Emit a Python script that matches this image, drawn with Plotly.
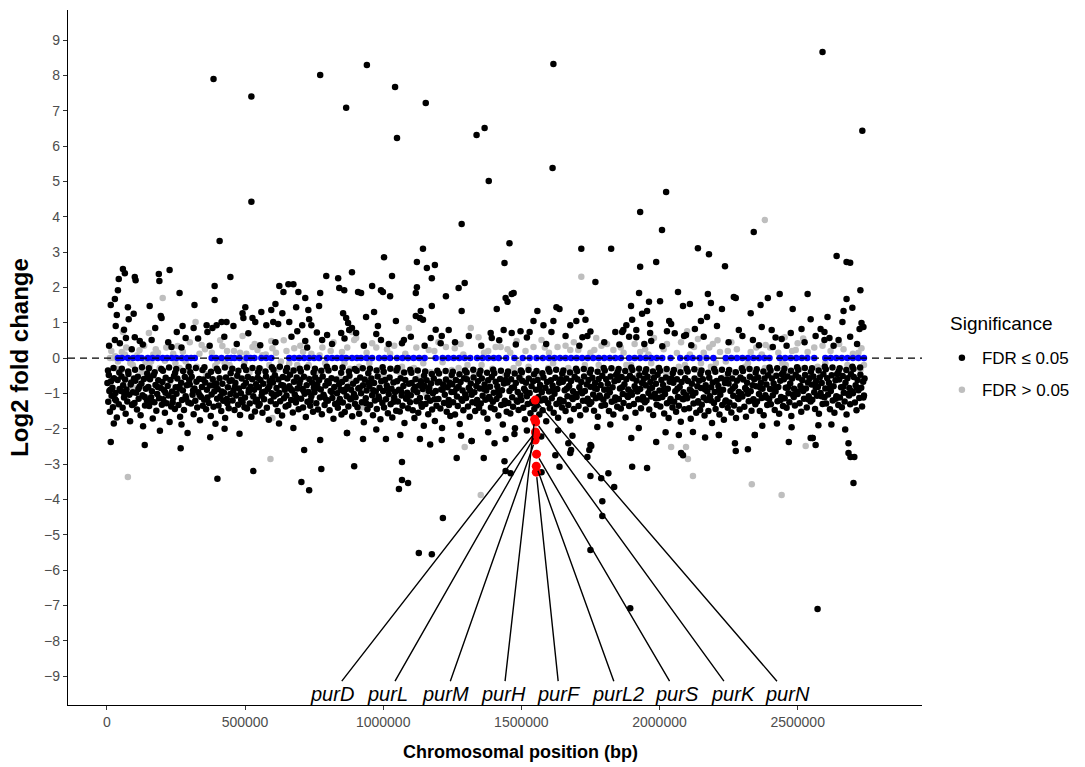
import plotly.graph_objects as go

# ---------------- data (x in kb, y = log2 fold change) ----------------
NEG_BLACK = [
(2,-0.71),(5,-1.24),(7,-0.48),(9,-0.93),(11,-1.52),(15,-0.66),(17,-1.07),(20,-0.84),(22,-1.39),(26,-0.57),(29,-1.16),(31,-0.99),(36,-1.68),(39,-0.62),(43,-1.31),(46,-0.88),(25,-1.85),
(51,-0.93),(53,-0.52),(57,-1.41),(59,-0.77),(62,-1.12),(66,-0.61),(68,-1.58),(71,-0.89),(74,-1.23),(78,-0.45),(81,-1.04),(84,-1.79),(88,-0.69),(91,-1.33),(94,-0.97),(98,-0.58),
(100,-1.27),(103,-0.64),(106,-0.98),(109,-1.46),(112,-0.53),(115,-1.15),(118,-0.81),(122,-1.62),(125,-0.72),(129,-1.05),(131,-1.93),(134,-0.59),(138,-1.34),(141,-0.87),(145,-1.2),(148,-0.5),
(150,-0.82),(153,-1.36),(156,-0.6),(160,-1.11),(163,-0.94),(166,-1.71),(169,-0.49),(172,-1.25),(176,-0.76),(179,-1.49),(182,-1.02),(186,-0.63),(189,-1.14),(192,-2.06),(195,-0.85),(199,-1.32),
(201,-0.68),(204,-1.17),(207,-0.91),(210,-1.55),(213,-0.56),(216,-1.28),(220,-0.79),(223,-1.06),(227,-1.81),(230,-0.62),(233,-1.37),(236,-0.95),(240,-1.13),(243,-0.51),(246,-1.44),(249,-0.83),
(252,-1.01),(255,-0.58),(259,-1.33),(262,-0.81),(265,-1.66),(269,-0.7),(272,-1.19),(275,-0.92),(279,-1.47),(282,-0.54),(285,-1.08),(289,-0.77),(292,-2.12),(295,-1.26),(298,-0.63),(270,-1.88),
(300,-0.75),(304,-1.29),(307,-0.53),(310,-1.04),(314,-1.59),(317,-0.86),(320,-1.21),(324,-0.67),(327,-1.4),(331,-0.97),(334,-0.59),(337,-1.76),(341,-1.1),(344,-0.82),(347,-1.35),(349,-0.61),
(352,-1.18),(356,-0.69),(359,-1.45),(362,-0.9),(366,-0.5),(369,-1.27),(373,-0.78),(376,-1.64),(379,-1.03),(383,-0.6),(386,-1.38),(389,-0.94),(393,-1.86),(396,-0.72),(399,-1.15),(374,-2.24),
(401,-0.88),(404,-1.34),(408,-0.57),(411,-1.09),(414,-1.5),(418,-0.73),(421,-1.21),(424,-0.98),(428,-1.7),(431,-0.55),(434,-1.16),(438,-0.83),(441,-1.42),(444,-0.65),(447,-1.02),(426,-2.0),
(452,-0.63),(455,-1.2),(458,-0.92),(462,-1.47),(465,-0.71),(468,-1.06),(472,-0.5),(475,-1.32),(478,-0.86),(482,-1.61),(485,-1.0),(488,-0.58),(491,-1.25),(495,-0.79),(498,-1.39),(480,-2.14),
(500,-1.12),(503,-0.7),(507,-1.43),(510,-0.54),(513,-0.97),(517,-1.29),(520,-0.81),(523,-1.66),(526,-0.6),(530,-1.08),(533,-0.9),(536,-1.51),(540,-0.74),(543,-1.18),(546,-0.56),(549,-1.35),
(550,-0.83),(553,-1.3),(556,-0.62),(560,-1.07),(563,-1.55),(566,-0.73),(569,-1.17),(573,-0.95),(576,-0.52),(579,-1.41),(583,-0.87),(586,-1.75),(589,-0.66),(593,-1.22),(596,-1.0),(599,-0.58),
(601,-0.69),(604,-1.09),(608,-0.49),(611,-1.31),(614,-0.85),(618,-1.5),(621,-0.61),(624,-0.99),(627,-1.22),(631,-0.76),(634,-1.63),(637,-0.54),(641,-1.14),(644,-0.9),(647,-1.37),(623,-1.85),
(650,-1.06),(653,-0.58),(657,-1.33),(660,-0.8),(663,-0.47),(667,-1.19),(670,-0.92),(673,-1.54),(677,-0.67),(680,-1.03),(684,-1.26),(687,-0.55),(690,-0.86),(694,-1.45),(697,-0.72),(675,-1.98),
(700,-0.62),(703,-1.15),(707,-0.88),(710,-1.4),(713,-0.53),(716,-1.01),(720,-1.67),(723,-0.77),(726,-1.24),(730,-0.96),(733,-0.6),(736,-1.35),(740,-1.08),(743,-0.7),(746,-1.52),(749,-0.84),(714,-2.6),
(751,-0.97),(754,-0.55),(758,-1.28),(761,-0.74),(764,-1.46),(768,-0.63),(771,-1.12),(774,-0.89),(778,-1.59),(781,-0.52),(784,-1.04),(788,-1.33),(791,-0.78),(794,-1.18),(798,-0.66),(772,-2.32),
(800,-1.21),(803,-0.71),(806,-1.48),(810,-0.93),(813,-0.57),(816,-1.13),(820,-1.72),(823,-0.82),(826,-1.3),(830,-0.61),(833,-1.0),(836,-1.41),(840,-0.75),(843,-1.16),(846,-0.9),(849,-1.6),
(851,-0.68),(854,-1.26),(858,-0.95),(861,-1.53),(864,-0.59),(868,-1.08),(871,-0.81),(874,-1.37),(878,-0.5),(881,-1.17),(884,-0.9),(888,-1.65),(891,-0.73),(894,-1.02),(898,-1.3),(869,-2.12),
(900,-1.11),(903,-0.64),(907,-1.39),(910,-0.86),(913,-1.58),(917,-0.55),(920,-1.0),(923,-1.25),(927,-0.77),(930,-1.82),(933,-0.61),(937,-1.14),(940,-0.92),(943,-1.45),(947,-0.7),(927,-2.29),
(950,-0.8),(953,-1.33),(957,-0.58),(960,-1.05),(963,-1.62),(967,-0.71),(970,-1.2),(973,-0.95),(977,-1.44),(980,-0.52),(983,-1.09),(987,-0.84),(990,-1.73),(993,-0.66),(997,-1.27),(975,-2.02),
(1000,-0.93),(1003,-1.4),(1007,-0.62),(1010,-1.17),(1013,-0.78),(1017,-1.56),(1020,-1.02),(1023,-0.55),(1027,-1.31),(1030,-0.87),(1033,-1.68),(1037,-0.69),(1040,-1.12),(1043,-0.96),(1047,-1.49),(1010,-2.29),
(1050,-0.66),(1053,-1.23),(1057,-0.9),(1060,-1.51),(1063,-0.57),(1067,-1.06),(1070,-1.35),(1073,-0.79),(1077,-1.84),(1080,-0.62),(1083,-1.15),(1087,-0.98),(1090,-1.42),(1093,-0.73),(1097,-1.25),(1062,-2.18),
(1100,-1.05),(1103,-0.71),(1107,-1.48),(1110,-0.9),(1113,-1.7),(1117,-0.6),(1120,-1.22),(1123,-0.97),(1127,-1.55),(1130,-0.78),(1133,-1.13),(1137,-0.66),(1140,-1.38),(1143,-0.88),(1147,-1.92),(1133,-2.29),
(1150,-0.79),(1153,-1.3),(1157,-0.63),(1160,-1.12),(1163,-1.59),(1167,-0.85),(1170,-1.21),(1173,-0.72),(1177,-1.46),(1180,-1.0),(1183,-0.58),(1187,-1.78),(1190,-0.93),(1193,-1.35),(1197,-0.69),(1170,-2.45),
(1200,-1.16),(1203,-0.67),(1207,-1.43),(1210,-0.89),(1213,-1.98),(1217,-0.75),(1220,-1.27),(1223,-1.04),(1227,-0.61),(1230,-1.52),(1233,-0.83),(1237,-1.19),(1240,-0.7),(1243,-1.64),(1247,-0.96),(1212,-2.32),
(1250,-0.74),(1253,-1.25),(1257,-0.96),(1260,-1.6),(1263,-0.62),(1267,-1.09),(1270,-1.36),(1273,-0.81),(1277,-1.87),(1280,-0.68),(1283,-1.17),(1287,-0.92),(1290,-1.48),(1293,-0.57),(1297,-1.03),(1282,-2.2),
(1300,-1.13),(1303,-0.6),(1307,-1.37),(1310,-0.84),(1313,-1.66),(1317,-0.72),(1320,-1.04),(1323,-1.25),(1327,-0.55),(1330,-0.97),(1333,-1.5),(1337,-0.79),(1340,-1.19),(1343,-0.66),(1347,-1.41),(1320,-2.35),
(1350,-0.86),(1353,-1.29),(1357,-0.58),(1360,-1.07),(1363,-1.54),(1367,-0.75),(1370,-1.18),(1373,-0.92),(1377,-1.72),(1380,-0.63),(1383,-1.1),(1387,-0.81),(1390,-1.4),(1393,-0.54),(1397,-1.24),(1380,-2.1),
(1400,-0.98),(1403,-1.45),(1407,-0.67),(1410,-1.16),(1413,-0.8),(1417,-1.63),(1420,-1.05),(1423,-0.59),(1427,-1.33),(1430,-0.91),(1433,-1.88),(1437,-0.72),(1440,-1.21),(1443,-0.62),(1447,-1.52),(1403,-2.41),(1443,-2.29),
(1450,-0.69),(1453,-1.27),(1457,-0.93),(1460,-1.57),(1463,-0.6),(1467,-1.11),(1470,-1.38),(1473,-0.83),(1477,-1.99),(1480,-0.71),(1483,-1.2),(1487,-0.96),(1490,-1.47),(1493,-0.56),(1497,-1.06),(1475,-2.15),
(1500,-1.19),(1503,-0.64),(1507,-1.41),(1510,-0.87),(1513,-1.73),(1517,-0.7),(1520,-1.08),(1523,-1.3),(1527,-0.58),(1530,-0.99),(1533,-1.56),(1537,-0.8),(1540,-1.23),(1543,-0.66),(1547,-1.44),(1520,-2.05),
(1553,-0.9),(1556,-1.34),(1559,-0.62),(1562,-1.1),(1565,-1.6),(1568,-0.76),(1571,-1.2),(1574,-0.97),(1577,-1.48),(1580,-0.55),(1584,-1.15),(1587,-0.84),(1590,-1.79),(1593,-0.68),(1597,-1.28),(1572,-2.22),
(1600,-0.95),(1603,-1.42),(1607,-0.63),(1610,-1.14),(1613,-0.78),(1617,-1.55),(1620,-1.01),(1623,-0.56),(1627,-1.3),(1630,-0.88),(1633,-1.69),(1637,-0.7),(1640,-1.18),(1643,-0.6),(1647,-1.4),(1633,-2.05),
(1650,-0.67),(1653,-1.22),(1657,-0.91),(1660,-1.5),(1663,-0.58),(1667,-1.08),(1670,-1.33),(1673,-0.79),(1677,-1.77),(1680,-0.65),(1683,-1.12),(1687,-0.94),(1690,-1.44),(1693,-0.53),(1697,-1.02),(1685,-2.2),
(1700,-1.1),(1703,-0.6),(1707,-1.36),(1710,-0.83),(1713,-1.62),(1717,-0.68),(1720,-1.0),(1723,-1.21),(1727,-0.52),(1730,-0.93),(1733,-1.46),(1737,-0.75),(1740,-1.15),(1743,-0.62),(1747,-1.3),(1753,-2.49),
(1750,-0.81),(1753,-1.25),(1757,-0.56),(1760,-1.03),(1763,-1.49),(1767,-0.71),(1770,-1.14),(1773,-0.88),(1777,-1.66),(1780,-0.59),(1783,-1.06),(1787,-0.76),(1790,-1.35),(1793,-0.5),(1797,-1.18),(1775,-1.95),
(1800,-0.9),(1803,-1.33),(1807,-0.6),(1810,-1.07),(1813,-0.73),(1817,-1.5),(1820,-0.97),(1823,-0.52),(1827,-1.24),(1830,-0.83),(1833,-1.6),(1837,-0.66),(1840,-1.12),(1843,-0.48),(1847,-1.38),(1822,-1.88),
(1850,-0.62),(1853,-1.16),(1857,-0.86),(1860,-1.43),(1863,-0.54),(1867,-1.02),(1870,-1.27),(1873,-0.74),(1877,-1.68),(1880,-0.6),(1883,-1.06),(1887,-0.89),(1890,-1.36),(1893,-0.5),(1897,-0.97),(1898,-2.26),
(1900,-1.04),(1903,-0.57),(1907,-1.3),(1910,-0.8),(1913,-1.55),(1917,-0.64),(1920,-0.95),(1923,-1.17),(1927,-0.49),(1930,-0.88),(1933,-1.42),(1937,-0.71),(1940,-1.1),(1943,-0.59),(1947,-1.25),(1925,-1.98),
(1950,-0.77),(1953,-1.2),(1957,-0.53),(1960,-0.99),(1963,-1.46),(1967,-0.68),(1970,-1.09),(1973,-0.84),(1977,-1.61),(1980,-0.56),(1983,-1.01),(1987,-0.73),(1990,-1.32),(1993,-0.47),(1997,-1.13),(1988,-2.38),
(2000,-0.92),(2003,-1.37),(2007,-0.62),(2010,-1.1),(2013,-0.76),(2017,-1.57),(2020,-1.02),(2023,-0.55),(2027,-1.28),(2030,-0.87),(2033,-1.7),(2037,-0.67),(2040,-1.16),(2043,-0.58),(2047,-1.4),(2022,-2.1),
(2050,-0.7),(2053,-1.24),(2057,-0.94),(2060,-1.52),(2063,-0.6),(2067,-1.1),(2070,-1.35),(2073,-0.82),(2077,-1.8),(2080,-0.68),(2083,-1.15),(2087,-0.97),(2090,-1.45),(2093,-0.57),(2097,-1.05),(2070,-2.18),
(2100,-1.14),(2103,-0.65),(2107,-1.42),(2110,-0.89),(2113,-1.72),(2117,-0.73),(2120,-1.06),(2123,-1.29),(2127,-0.58),(2130,-0.98),(2133,-1.55),(2137,-0.8),(2140,-1.22),(2143,-0.64),(2147,-1.47),(2121,-2.09),
(2150,-0.85),(2153,-1.32),(2157,-0.6),(2160,-1.12),(2163,-1.63),(2167,-0.77),(2170,-1.19),(2173,-0.95),(2177,-1.5),(2180,-0.56),(2183,-1.08),(2187,-0.83),(2190,-1.84),(2193,-0.69),(2197,-1.27),(2165,-2.25),
(2200,-0.96),(2203,-1.44),(2207,-0.65),(2210,-1.16),(2213,-0.79),(2217,-1.6),(2220,-1.04),(2223,-0.57),(2227,-1.33),(2230,-0.9),(2233,-1.75),(2237,-0.71),(2240,-1.2),(2243,-0.61),(2247,-1.41),(2215,-2.18),
(2250,-0.72),(2253,-1.26),(2257,-0.93),(2260,-1.54),(2263,-0.58),(2267,-1.07),(2270,-1.34),(2273,-0.8),(2277,-1.7),(2280,-0.64),(2283,-1.13),(2287,-0.96),(2290,-1.46),(2293,-0.55),(2297,-1.02),(2273,-2.41),
(2300,-1.09),(2303,-0.61),(2307,-1.38),(2310,-0.85),(2313,-1.66),(2317,-0.7),(2320,-1.01),(2323,-1.22),(2327,-0.53),(2330,-0.94),(2333,-1.49),(2337,-0.77),(2340,-1.17),(2343,-0.6),(2347,-1.31),(2345,-2.18),
(2350,-0.8),(2353,-1.23),(2357,-0.55),(2360,-1.02),(2363,-1.5),(2367,-0.7),(2370,-1.13),(2373,-0.87),(2377,-1.62),(2380,-0.58),(2383,-1.05),(2387,-0.75),(2390,-1.33),(2393,-0.49),(2397,-1.16),(2372,-1.92),
(2400,-0.88),(2403,-1.31),(2407,-0.58),(2410,-1.05),(2413,-0.72),(2417,-1.47),(2420,-0.95),(2423,-0.5),(2427,-1.22),(2430,-0.82),(2433,-1.58),(2437,-0.64),(2440,-1.1),(2443,-0.46),(2447,-1.36),(2425,-1.85),
(2450,-0.6),(2453,-1.14),(2457,-0.84),(2460,-1.41),(2463,-0.52),(2467,-1.0),(2470,-1.25),(2473,-0.72),(2477,-1.64),(2480,-0.58),(2483,-1.04),(2487,-0.87),(2490,-1.34),(2493,-0.47),(2497,-0.95),(2478,-1.96),
(2500,-1.02),(2503,-0.55),(2507,-1.28),(2510,-0.79),(2513,-1.52),(2517,-0.63),(2520,-0.93),(2523,-1.15),(2527,-0.48),(2530,-0.86),(2533,-1.4),(2537,-0.69),(2540,-1.08),(2543,-0.57),(2547,-1.23),(2554,-2.26),
(2550,-0.75),(2553,-1.18),(2557,-0.52),(2560,-0.97),(2563,-1.44),(2567,-0.66),(2570,-1.07),(2573,-0.82),(2577,-1.58),(2580,-0.55),(2583,-0.99),(2587,-0.71),(2590,-1.3),(2593,-0.46),(2597,-1.11),(2575,-1.9),
(2600,-0.86),(2603,-1.29),(2607,-0.57),(2610,-1.03),(2613,-0.7),(2617,-1.45),(2620,-0.93),(2623,-0.49),(2627,-1.2),(2630,-0.8),(2633,-1.55),(2637,-0.63),(2640,-1.08),(2643,-0.45),(2647,-1.33),(2622,-1.88),
(2650,-0.61),(2653,-1.12),(2657,-0.83),(2660,-1.39),(2663,-0.51),(2667,-0.98),(2670,-1.23),(2673,-0.7),(2677,-1.6),(2680,-0.57),(2683,-1.02),(2687,-0.85),(2690,-1.31),(2693,-0.46),(2697,-0.94),(2672,-2.02),
(2700,-1.0),(2703,-0.54),(2707,-1.26),(2710,-0.77),(2713,-1.48),(2717,-0.62),(2720,-0.91),(2723,-1.13),(2727,-0.47),(2730,-0.84),(2733,-1.37),(2737,-0.67),(2740,-1.06),(2742,-0.58),
]

NEG_BLACK_UPPER = [
(4,-0.35),(13,-0.9),(24,-0.28),(33,-1.2),(45,-0.41),(54,-0.3),(63,-1.0),(77,-0.38),(86,-0.75),(96,-1.3),
(102,-0.33),(114,-0.88),(127,-0.26),(137,-1.1),(146,-0.44),(152,-0.29),(161,-1.22),(173,-0.4),(184,-0.82),(197,-0.31),
(203,-0.36),(212,-0.98),(225,-0.27),(238,-1.25),(247,-0.42),(251,-0.31),(263,-0.86),(276,-0.37),(287,-1.15),(296,-0.25),
(302,-0.4),(312,-0.92),(322,-0.28),(336,-1.05),(346,-0.34),(353,-0.26),(364,-1.12),(377,-0.39),(387,-0.76),(398,-0.3),
(403,-0.37),(416,-0.95),(427,-0.27),(436,-1.28),(448,-0.43),(454,-0.3),(463,-0.83),(476,-0.36),(486,-1.18),(496,-0.24),
(504,-0.34),(514,-0.9),(527,-0.28),(538,-1.23),(547,-0.4),(552,-0.29),(562,-0.97),(574,-0.38),(588,-0.8),(597,-0.26),
(603,-0.33),(613,-1.03),(626,-0.25),(638,-0.78),(648,-0.37),(652,-0.28),(665,-0.88),(676,-0.35),(686,-1.12),(698,-0.3),
(702,-0.38),(712,-0.93),(724,-0.27),(737,-1.2),(748,-0.41),(753,-0.3),(763,-0.85),(776,-0.36),(787,-1.1),(796,-0.25),
(802,-0.35),(814,-0.96),(825,-0.28),(838,-1.26),(848,-0.42),(853,-0.27),(863,-0.89),(876,-0.38),(886,-1.14),(897,-0.31),
(904,-0.36),(915,-0.84),(926,-0.29),(938,-1.28),(946,-0.43),(952,-0.3),(964,-0.91),(976,-0.35),(986,-1.16),(998,-0.26),
(1002,-0.39),(1015,-0.87),(1026,-0.3),(1038,-1.24),(1048,-0.35),(1052,-0.28),(1065,-0.95),(1076,-0.41),(1088,-1.1),(1098,-0.33),
(1102,-0.42),(1115,-0.82),(1125,-0.35),(1138,-1.3),(1148,-0.5),(1152,-0.38),(1165,-0.93),(1176,-0.45),(1186,-1.17),(1196,-0.36),
(1202,-0.44),(1215,-0.9),(1226,-0.37),(1238,-1.33),(1248,-0.48),(1252,-0.39),(1265,-0.86),(1276,-0.46),(1286,-1.21),(1296,-0.35),
(1302,-0.41),(1315,-0.92),(1326,-0.33),(1338,-1.29),(1348,-0.45),(1352,-0.36),(1365,-0.88),(1376,-0.42),(1386,-1.15),(1398,-0.33),
(1402,-0.43),(1415,-0.95),(1426,-0.36),(1438,-1.3),(1448,-0.47),(1452,-0.38),(1465,-0.85),(1476,-0.44),(1486,-1.24),(1498,-0.35),
(1502,-0.4),(1515,-0.93),(1526,-0.34),(1538,-1.27),(1546,-0.46),(1555,-0.37),(1566,-0.88),(1576,-0.43),(1586,-1.19),(1598,-0.32),
(1602,-0.39),(1615,-0.9),(1626,-0.33),(1638,-1.25),(1648,-0.44),(1652,-0.35),(1665,-0.86),(1676,-0.41),(1686,-1.16),(1698,-0.3),
(1702,-0.37),(1715,-0.94),(1726,-0.31),(1738,-1.22),(1748,-0.42),(1752,-0.33),(1765,-0.85),(1776,-0.39),(1786,-1.12),(1798,-0.28),
(1802,-0.35),(1815,-0.9),(1826,-0.29),(1838,-1.2),(1848,-0.4),(1852,-0.31),(1865,-0.83),(1876,-0.37),(1886,-1.1),(1898,-0.27),
(1902,-0.34),(1915,-0.88),(1926,-0.3),(1938,-1.18),(1948,-0.41),(1952,-0.32),(1965,-0.86),(1976,-0.38),(1986,-1.14),(1998,-0.28),
(2002,-0.36),(2015,-0.92),(2026,-0.31),(2038,-1.23),(2048,-0.43),(2052,-0.34),(2065,-0.87),(2076,-0.4),(2086,-1.17),(2098,-0.3),
(2102,-0.38),(2115,-0.94),(2126,-0.32),(2138,-1.26),(2148,-0.45),(2152,-0.35),(2165,-0.89),(2176,-0.42),(2186,-1.2),(2198,-0.31),
(2202,-0.39),(2215,-0.91),(2226,-0.33),(2238,-1.24),(2248,-0.44),(2252,-0.34),(2265,-0.86),(2276,-0.4),(2286,-1.16),(2298,-0.29),
(2302,-0.37),(2315,-0.9),(2326,-0.31),(2338,-1.21),(2348,-0.42),(2352,-0.32),(2365,-0.84),(2376,-0.38),(2386,-1.12),(2398,-0.27),
(2402,-0.35),(2415,-0.88),(2426,-0.29),(2438,-1.19),(2448,-0.4),(2452,-0.3),(2465,-0.83),(2476,-0.36),(2486,-1.1),(2498,-0.26),
(2502,-0.33),(2515,-0.86),(2526,-0.28),(2538,-1.17),(2548,-0.39),(2552,-0.29),(2565,-0.82),(2576,-0.35),(2586,-1.08),(2598,-0.25),
(2602,-0.32),(2615,-0.85),(2626,-0.27),(2638,-1.15),(2648,-0.38),(2652,-0.29),(2665,-0.81),(2676,-0.34),(2686,-1.06),(2698,-0.25),
(2702,-0.31),(2715,-0.84),(2726,-0.27),(2738,-1.12),
]

POS_BLACK = [
(58,2.52),(65,2.4),(43,2.24),(101,2.29),(104,2.2),(188,2.38),(190,2.18),(227,2.49),(40,1.92),(29,1.67),(14,1.5),(76,1.44),(97,1.25),(79,1.1),(36,1.22),(32,0.91),(29,0.51),(47,0.42),(69,0.57),(90,0.25),(101,0.59),(119,0.48),(155,1.47),(195,1.19),(198,1.13),(162,0.51),(263,1.84),(234,0.31),(253,0.74),(274,0.91),(285,0.57),(317,1.5),(314,0.85),(361,0.93),(364,0.74),(382,0.85),(390,2.04),(390,1.64),(397,0.93),(415,1.02),(433,1.02),(447,2.29),(458,0.91),(491,1.27),(494,1.13),(501,1.44),(527,1.13),(537,1.02),(559,1.3),(577,0.93),(595,1.36),(610,1.53),(602,1.02),(620,0.96),(624,2.04),(639,1.87),(635,1.27),(657,2.09),(675,2.09),(660,1.02),(685,1.44),(693,1.87),(718,1.7),(729,1.36),(732,1.1),(740,0.93),(707,0.93),(689,0.76),(718,0.48),(772,1.84),(794,2.32),(768,1.47),(797,0.65),(779,0.51),(837,2.26),(841,1.98),(859,1.92),(887,2.43),(855,1.27),(866,1.13),(873,0.99),(877,0.79),(848,0.71),(902,0.71),(909,1.87),
(1122,2.72),(1158,2.55),(1187,2.63),(1176,2.26),(1032,2.32),(960,2.04),(920,1.84),(992,1.92),(999,1.87),(1025,1.75),(1122,2.0),(1118,1.84),(1118,1.19),(1133,1.13),(1144,1.08),(1136,1.33),(1176,1.47),(1227,1.75),(1273,1.98),(1295,2.12),(1284,1.33),(1237,0.79),(1212,0.62),(1208,0.42),(1172,0.57),(1075,0.51),(1068,0.42),(1046,1.05),(981,0.91),(938,1.16),(967,1.3),(992,0.51),(887,0.85),(1411,1.39),(1439,2.69),(1450,1.59),(1443,1.7),(1465,1.81),(1472,1.84),(1389,0.71),(1393,0.57),(1436,0.79),(1465,0.71),(1497,0.76),(1530,0.74),(1544,1.05),(1558,1.33),(1580,0.93),(1616,1.05),(1609,0.74),(1627,1.44),(1638,1.39),(1677,0.93),(1699,1.05),(1717,1.3),(1732,1.08),(1739,0.62),(1721,0.59),(1768,2.15),(1840,0.74),(1865,0.74),
(1930,2.58),(1988,2.72),(2237,2.6),(1926,1.84),(2002,1.61),(2067,1.87),(1897,1.47),(1962,1.59),(1955,1.33),(1937,1.25),(1901,1.08),(1880,0.93),(1869,0.79),(1916,0.79),(1916,0.59),(1966,0.96),(1966,0.71),(1970,0.48),(2035,1.05),(2042,0.96),(2027,0.76),(2085,1.47),(2110,1.53),(2089,0.62),(2096,0.65),(2128,0.82),(2150,1.05),(2172,1.16),(2175,1.81),(2186,1.56),(2208,0.91),(2226,1.39),(2269,1.73),(2276,1.7),(2287,0.79),(2330,1.27),(2366,1.5),(2392,1.7),(2370,0.88),(2406,0.79),(2410,0.31),(2338,0.51),(2435,1.81),(2482,1.39),(2442,0.54),(2475,0.71),(2514,0.82),(2536,1.81),(2547,1.1),(2583,0.82),(2608,1.16),(2597,0.74),(2597,0.51),(2615,0.57),(2677,2.72),(2677,1.67),(2666,1.33),(2662,1.02),(2648,0.51),(2698,1.42),(2727,1.92),(2731,0.99),(2724,0.82),(2738,0.88),
(8,0.35),(62,0.8),(130,0.38),(175,0.85),(222,0.45),(270,0.3),(330,0.55),(372,0.35),(425,0.6),(470,0.4),(512,0.7),(555,0.36),(610,0.45),(668,0.6),(725,0.3),(760,0.72),(815,0.4),(860,0.55),(930,0.35),(975,0.68),(1020,0.4),(1100,0.6),(1150,0.35),(1190,0.8),(1260,0.45),(1310,0.62),(1355,0.35),(1420,0.5),(1480,0.38),(1520,0.58),(1590,0.4),(1660,0.62),(1710,0.35),(1750,0.75),(1800,0.45),(1855,0.38),(1890,0.6),(1945,0.4),(2010,0.33),(2055,0.7),(2115,0.36),(2160,0.6),(2250,0.45),(2300,0.62),(2360,0.36),(2420,0.58),(2460,0.35),(2525,0.45),(2565,0.62),(2630,0.35),(2690,0.6),(2715,0.4),
]

OUT_BLACK = [
(386,7.9),(523,7.4),(772,8.01),(941,8.29),(1043,7.67),(866,7.08),(1154,7.22),(1050,6.23),(1338,6.31),(523,4.42),(408,3.31),(1284,3.79),(1144,3.09),(1003,2.85),(1616,8.32),(2590,8.66),(1367,6.51),(2734,6.43),(1613,5.38),(1382,5.01),(2024,4.70),(1930,4.13),(2009,3.62),(2341,3.57),(1457,3.25),(1717,3.09),(1825,3.09),(2139,3.11),(2179,2.94),(2641,2.89),(2690,2.7),
(14,-2.38),(137,-2.46),(267,-2.55),(400,-3.42),(530,-3.2),(704,-3.51),(732,-3.74),(776,-3.14),(895,-3.06),(1068,-2.94),(1068,-3.45),(1090,-3.54),(1057,-3.71),(1216,-4.53),(1129,-5.52),(1176,-5.55),(1266,-2.83),(1364,-2.83),(1750,-5.43),(1894,-7.08),(2572,-7.10),(1793,-4.05),(1793,-4.47),(1836,-3.65),(1750,-3.34),(1789,-3.40),(1815,-3.26),(1901,-3.08),(1955,-3.11),(2702,-3.54),(2684,-2.41),(2684,-2.69),(2691,-2.80),(2705,-2.80),(2078,-2.69),(2085,-2.75),(2276,-2.63),(2320,-2.58),(2547,-2.26),(2565,-2.46),(2468,-2.38),(1677,-2.69),(1638,-3.08),(1623,-2.75),(1573,-3.23),(1461,-3.26),(1443,-3.2),(1439,-2.92),(1739,-2.80),(1746,-2.60),(1750,-2.46),(1670,-2.41),(1680,-2.60),
(869,-2.12),(1320,-2.35),(2215,-2.18),(2345,-2.18),(2554,-2.26),
]

GREY = [
(11,0.0),(22,0.0),(54,0.17),(58,0.74),(152,0.71),(177,0.25),(202,1.70),(256,0.34),(321,1.02),(343,0.37),(418,0.34),(491,0.62),(527,0.31),(545,0.23),(563,0.08),(595,0.48),(599,0.28),(678,0.28),(851,0.17),(887,0.74),(895,0.51),(689,-0.2),(758,-0.4),(155,-0.25),(94,-0.2),(54,-0.34),(126,-0.4),(227,-0.71),(94,-0.82),(444,-0.2),(516,-0.42),(527,-1.1),(599,-1.7),(725,-0.57),(841,-0.57),(833,-0.82),(426,-0.14),(325,-0.25),(588,-0.2),(191,-0.28),(263,-0.28),
(902,0.57),(960,0.42),(1014,0.25),(1093,0.85),(1165,0.23),(1227,0.31),(1259,0.28),(1317,0.85),(1345,0.59),(1407,0.31),(1425,0.31),(1483,0.48),(1544,0.31),(1573,0.51),(1631,0.31),(1677,0.23),(1706,0.23),(1717,2.3),(1764,0.23),(1771,0.57),(1833,0.23),(913,-0.25),(985,-0.34),(1068,-0.25),(1111,-0.28),(1172,-0.4),(1248,-0.34),(1273,-0.28),(1356,-0.2),(1472,-0.28),(1526,-0.25),(1598,-0.28),(1670,-0.28),(1742,-0.34),(1800,-0.82),(1815,-1.1),(1299,-0.91),(1154,-0.99),(1032,-1.1),(924,-1.39),(884,-0.68),
(1980,0.57),(2027,0.40),(2078,0.45),(2100,0.76),(2139,0.54),(1948,0.25),(1930,0.17),(2063,0.14),(2125,0.31),(2193,0.4),(2219,0.17),(2247,0.2),(2204,-0.14),(2330,0.17),(2384,0.37),(2453,0.59),(2500,0.42),(2493,0.23),(2536,0.17),(2619,0.2),(2666,0.25),(2731,0.28),(1897,-0.2),(1995,-0.28),(2024,-0.42),(2092,-0.2),(2139,-0.34),(2186,-0.25),(2273,-0.4),(2309,-0.25),(2381,-0.28),(2457,-0.2),(2572,-0.25),(2691,-0.4),(2727,-0.34),(1941,-0.82),(2006,-0.96),(2085,-1.1),
(30,0.05),(40,-0.1),(65,0.1),(110,0.08),(140,-0.12),(168,0.1),(210,-0.08),(240,0.12),(285,-0.1),(300,0.45),(360,-0.45),(380,0.15),(400,-0.1),(460,0.2),(470,-0.55),(505,0.12),(540,-0.6),(575,0.1),(620,-0.3),(640,0.5),(660,-0.15),(700,0.35),(740,0.12),(780,0.3),(800,-0.3),(820,0.45),(860,-0.15),(940,0.15),(1000,-0.5),(1040,0.35),(1080,0.12),(1130,-0.55),(1200,0.45),(1240,-0.6),(1290,0.1),(1330,-0.45),(1380,0.2),(1440,-0.5),(1460,0.15),(1500,-0.45),(1560,-0.55),(1600,0.15),(1650,-0.5),(1690,0.45),(1730,-0.2),(1790,0.35),(1850,-0.4),(1870,0.15),(1920,-0.5),(1960,0.1),(2050,-0.6),(2160,0.15),(2230,-0.55),(2260,0.45),(2290,-0.6),(2350,0.3),(2410,-0.5),(2430,0.15),(2470,-0.45),(2520,0.55),(2550,-0.55),(2590,0.35),(2640,-0.5),(2700,0.12),(2740,-0.2),
(16,0.2),(36,-0.3),(70,0.3),(85,-0.15),(118,0.22),(135,0.35),(160,-0.1),(185,0.15),(215,0.3),(248,-0.15),(275,0.18),(295,-0.35),(335,0.12),(355,0.25),(392,-0.22),(410,0.5),(435,0.2),(452,-0.3),(482,0.15),(498,-0.12),(535,0.4),(555,-0.3),(612,0.15),(630,-0.1),(650,0.2),(670,-0.35),(710,0.18),(730,-0.2),(770,0.08),(790,-0.15),(810,0.2),(870,0.3),(880,-0.3),(930,0.35),(950,-0.15),(975,0.3),(1025,0.12),(1060,-0.4),(1120,0.3),(1145,-0.15),(1185,0.2),(1215,-0.12),(1280,0.4),(1305,-0.2),(1365,0.15),(1395,-0.3),(1450,0.25),(1490,-0.15),(1515,0.2),(1585,0.3),(1615,-0.15),(1660,0.35),(1695,-0.35),(1750,0.15),(1780,-0.2),(1810,0.4),(1860,0.3),(1880,-0.2),(1910,0.4),(1970,-0.15),(2015,0.25),(2070,-0.25),(2110,0.1),(2150,-0.15),(2180,0.3),(2210,0.5),(2240,-0.1),(2280,0.25),(2320,-0.15),(2370,0.1),(2400,0.3),(2445,-0.15),(2480,0.2),(2510,-0.3),(2560,0.3),(2600,-0.15),(2650,0.4),(2680,-0.2),(2720,0.15),
(76,-3.37),(592,-2.86),(1295,-2.52),(1353,-3.88),(2121,-3.34),(2334,-3.57),(2442,-3.88),(2103,-2.86),(2042,-2.52),(2096,-2.52),(2529,-2.49),(2381,3.91),
]

BLUE_X = [40,55,76,95,112,126,148,165,184,202,218,235,252,271,289,305,318,
          379,395,415,437,450,462,480,505,520,534,559,577,595,
          660,678,696,714,732,750,768,797,815,833,850,866,887,905,920,940,960,985,1005,1025,
          1050,1070,1090,1110,1130,1150,1190,1215,1235,
          1255,1275,1295,1315,1340,1360,1380,1400,1418,1445,1475,1505,1530,1555,1578,
          1600,1620,1640,1660,1680,1700,1720,1740,1760,1780,1800,1820,1840,1860,
          1890,1910,1930,1950,1970,1990,2010,2040,2075,2100,2120,2145,2170,2195,
          2240,2260,2280,2300,2320,2340,2360,2380,2398,2435,2455,2475,2495,2515,2535,2560,
          2600,2620,2640,2660,2680,2700,2720,2740]

GENES  = ["purD", "purL", "purM", "purH", "purF", "purL2", "purS", "purK", "purN"]
GENE_X = [1551, 1553, 1550, 1548, 1554, 1554, 1555, 1552, 1550]      # kb
GENE_Y = [-2.09, -2.15, -2.32, -1.73, -3.23, -3.06, -2.72, -1.81, -1.19]
LABEL_X = [815, 1017, 1227, 1436, 1638, 1851, 2063, 2266, 2464]      # kb
LABEL_Y = -9.5

X_TICKS = [0, 500000, 1000000, 1500000, 2000000, 2500000]
Y_TICKS = list(range(-9, 10))

FONT = "Liberation Sans, Arial, Helvetica, sans-serif"

def bp(v):
    return [k * 1000 for k in v]

black = NEG_BLACK + NEG_BLACK_UPPER + POS_BLACK + OUT_BLACK

fig = go.Figure()
fig.add_trace(go.Scatter(
    x=bp([p[0] for p in GREY]), y=[p[1] for p in GREY], mode="markers",
    marker=dict(color="#BEBEBE", size=6.5, line=dict(width=0)),
    name="FDR > 0.05", legendrank=2, legendgroup="g2"))
fig.add_trace(go.Scatter(
    x=bp([p[0] for p in black]), y=[p[1] for p in black], mode="markers",
    marker=dict(color="black", size=6.5, line=dict(width=0)),
    name="FDR \u2264 0.05", legendrank=1, legendgroup="g1"))
fig.add_trace(go.Scatter(
    x=bp(BLUE_X), y=[0] * len(BLUE_X), mode="markers",
    marker=dict(color="#0000FF", size=6.5, line=dict(width=0)), showlegend=False))
fig.add_trace(go.Scatter(
    x=bp(GENE_X), y=GENE_Y, mode="markers",
    marker=dict(color="#FF0000", size=9, line=dict(width=0)), showlegend=False))

fig.add_shape(type="line", xref="paper", x0=0, x1=1, yref="y", y0=0, y1=0,
              line=dict(color="black", width=1.3, dash="7px,5px"), layer="above")

for g, gx, gy, lx in zip(GENES, GENE_X, GENE_Y, LABEL_X):
    fig.add_annotation(x=gx * 1000, y=gy, ax=lx * 1000, ay=LABEL_Y,
                       xref="x", yref="y", axref="x", ayref="y",
                       text="<i>" + g + "</i>", showarrow=True, arrowhead=0,
                       arrowwidth=1.4, arrowcolor="black", standoff=5,
                       font=dict(family=FONT, size=20, color="black"))

# axis title (x) and legend title as annotations for precise placement
fig.add_annotation(xref="paper", yref="paper", x=0.53, y=-0.068, xanchor="center", yanchor="middle",
                   text="<b>Chromosomal position (bp)</b>", showarrow=False,
                   font=dict(family=FONT, size=18, color="black"))
fig.add_annotation(xref="paper", yref="paper", x=1.03, y=0.5496, xanchor="left", yanchor="middle",
                   text="Significance", showarrow=False,
                   font=dict(family=FONT, size=19, color="black"))

fig.update_layout(
    width=1085, height=767,
    margin=dict(l=68, r=160, t=10, b=62),
    paper_bgcolor="white", plot_bgcolor="white",
    font=dict(family=FONT, color="black"),
    legend=dict(font=dict(size=17), x=1.0233, xanchor="left", y=0.525, yanchor="top",
                tracegroupgap=7),
    xaxis=dict(range=[-140700, 2950000], showgrid=False, zeroline=False,
               showline=True, linecolor="black", linewidth=1.3,
               ticks="outside", ticklen=4, tickcolor="#333333", tickwidth=1,
               tickvals=X_TICKS, ticktext=[str(v) for v in X_TICKS],
               tickfont=dict(size=14, color="#4D4D4D")),
    yaxis=dict(range=[-9.82, 9.85], showgrid=False, zeroline=False,
               showline=True, linecolor="black", linewidth=1.3,
               ticks="outside", ticklen=4, tickcolor="#333333", tickwidth=1,
               tickvals=Y_TICKS, ticktext=[("\u2212" + str(-v)) if v < 0 else str(v) for v in Y_TICKS],
               tickfont=dict(size=14, color="#4D4D4D"),
               title=dict(text="<b>Log2 fold change</b>", font=dict(size=24), standoff=8)),
)

fig.write_html("out.html")
